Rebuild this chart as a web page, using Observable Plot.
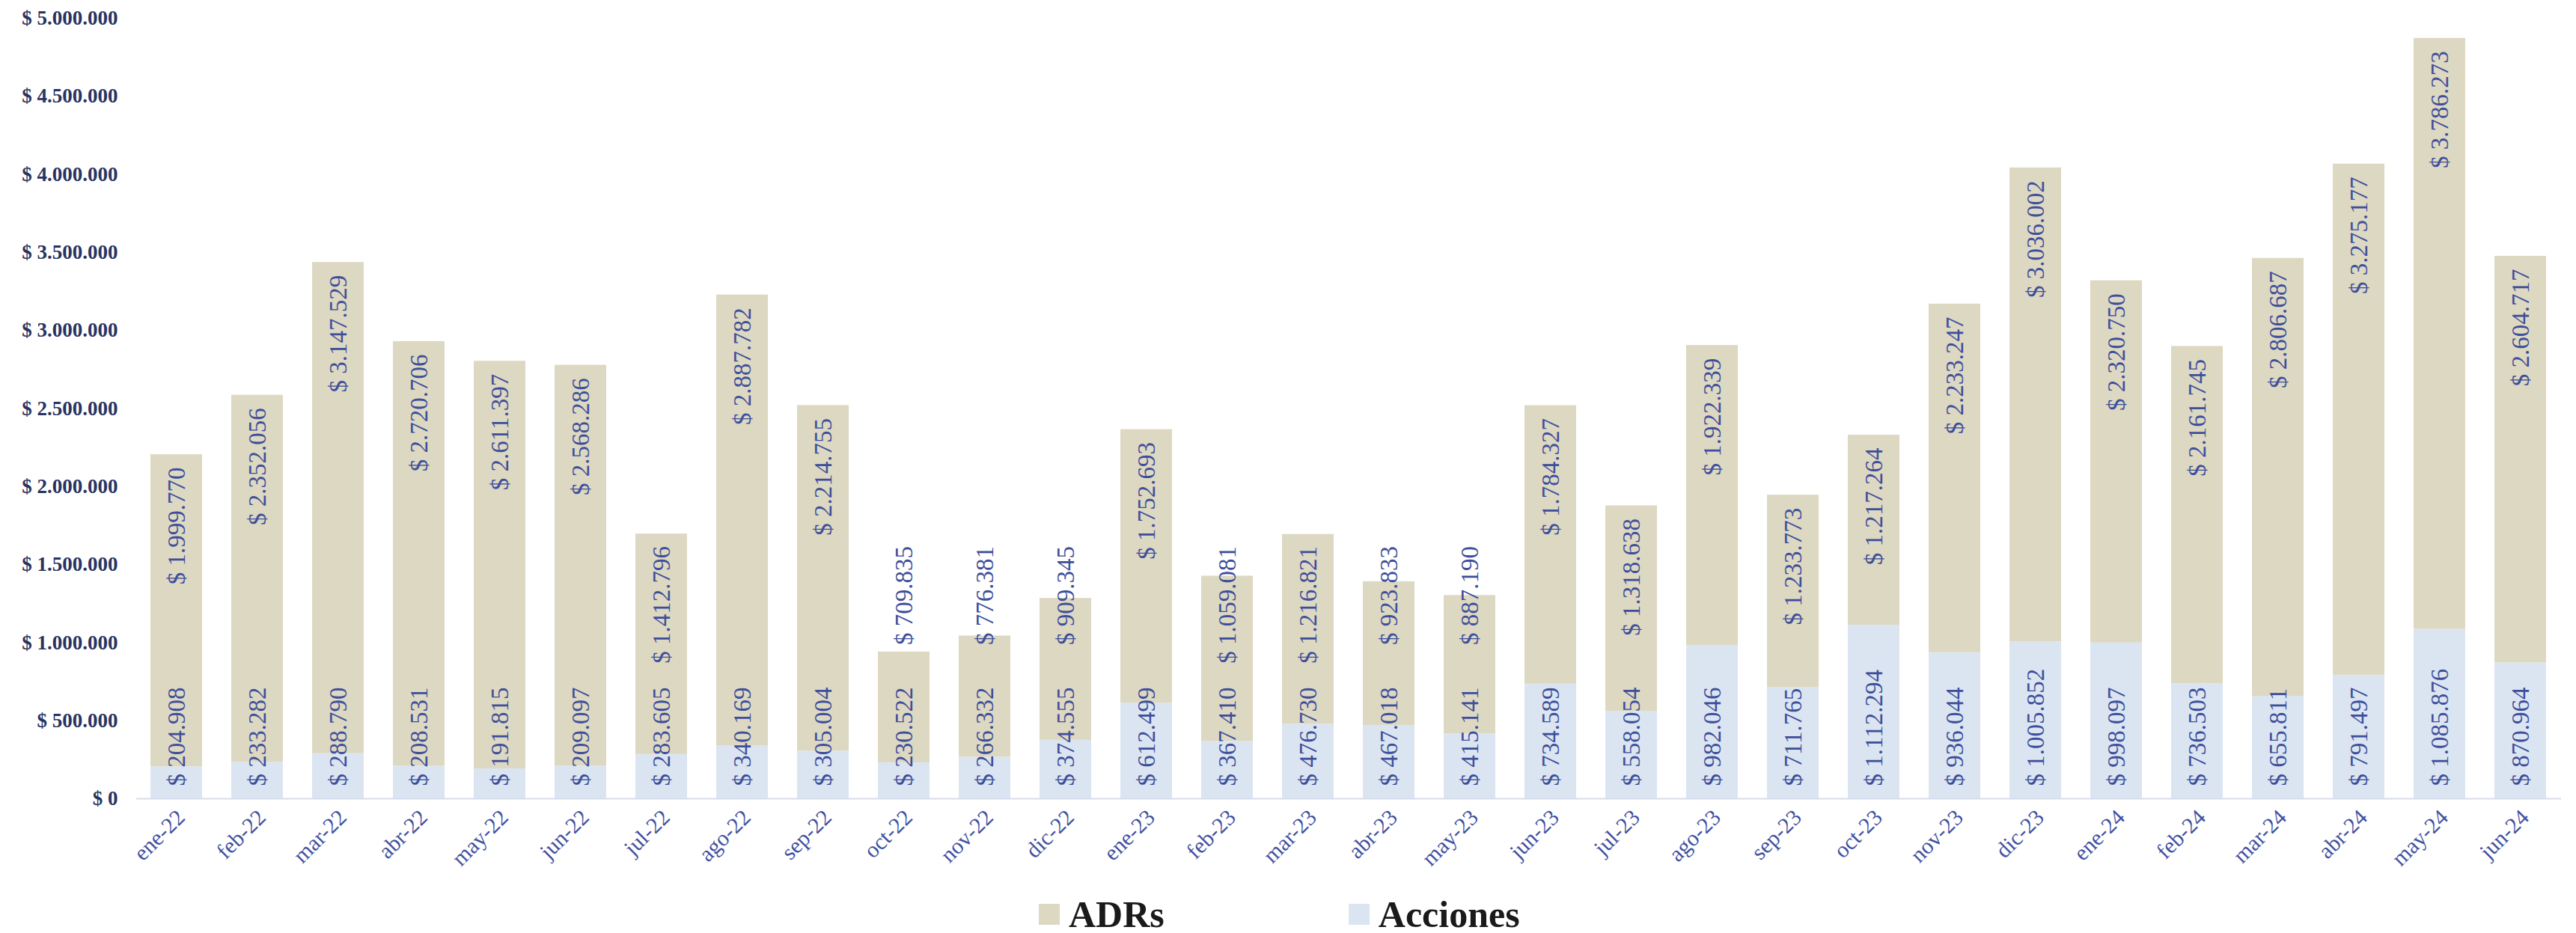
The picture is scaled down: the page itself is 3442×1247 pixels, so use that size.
<!DOCTYPE html>
<html>
<head>
<meta charset="utf-8">
<script src="https://cdn.jsdelivr.net/npm/d3@7"></script>
<script src="https://cdn.jsdelivr.net/npm/@observablehq/plot@0.6"></script>
<style>
  html, body { margin: 0; padding: 0; background: #ffffff; }
  #chart { width: 3442px; }
  .legend { display: flex; align-items: center; height: 44px; padding-top: 20px; padding-left: 1388px; font-family: "Liberation Serif", serif; font-weight: bold; font-size: 50px; color: #1a1a1a; }
  .legend .sw { width: 28px; height: 28px; margin-right: 12px; }
  .legend .item { display: flex; align-items: center; }
  .legend .item + .item { margin-left: 246px; }
</style>
</head>
<body>
<div id="chart"></div>
<div class="legend" id="legend"></div>
<script>
const months = ["ene-22","feb-22","mar-22","abr-22","may-22","jun-22","jul-22","ago-22","sep-22","oct-22","nov-22","dic-22",
  "ene-23","feb-23","mar-23","abr-23","may-23","jun-23","jul-23","ago-23","sep-23","oct-23","nov-23","dic-23",
  "ene-24","feb-24","mar-24","abr-24","may-24","jun-24"];
const adrs = [1999770, 2352056, 3147529, 2720706, 2611397, 2568286, 1412796, 2887782, 2214755, 709835, 776381, 909345,
  1752693, 1059081, 1216821, 923833, 887190, 1784327, 1318638, 1922339, 1233773, 1217264, 2233247, 3036002,
  2320750, 2161745, 2806687, 3275177, 3786273, 2604717];
const acciones = [204908, 233282, 288790, 208531, 191815, 209097, 283605, 340169, 305004, 230522, 266332, 374555,
  612499, 367410, 476730, 467018, 415141, 734589, 558054, 982046, 711765, 1112294, 936044, 1005852,
  998097, 736503, 655811, 791497, 1085876, 870964];
const seriesNames = ["ADRs", "Acciones"];
const yTicks = d3.range(0, 5000001, 500000);

const colors = { "ADRs": "#ddd8c2", "Acciones": "#dbe5f1" };
const labelColor = "#3d4f9b";

const loc = d3.formatLocale({decimal: ",", thousands: ".", grouping: [3], currency: ["$ ", ""]});
const fmt = loc.format("$,.0f");

const rows = months.flatMap((m, i) => [
  {month: m, series: "Acciones", value: acciones[i]},
  {month: m, series: "ADRs", value: adrs[i]}
]);
const totals = months.map((m, i) => ({month: m, adr: adrs[i], acc: acciones[i], total: adrs[i] + acciones[i]}));
// short bars: the ADR label is lifted so it does not collide with the Acciones label
const LABEL_FLOOR = 1700000;

const chart = Plot.plot({
  width: 3442,
  height: 1180,
  marginLeft: 182,
  marginRight: 20,
  marginTop: 24,
  marginBottom: 113,
  style: {fontFamily: "'Liberation Serif', serif", background: "#ffffff"},
  x: {domain: months, paddingInner: 0.36, paddingOuter: 0.18, label: null},
  y: {domain: [0, 5000000], label: null},
  color: {domain: seriesNames, range: seriesNames.map(s => colors[s])},
  marks: [
    Plot.axisY({ticks: yTicks, tickFormat: fmt, tickSize: 0, tickPadding: 25, fontSize: 27, fontWeight: "bold", fill: "#283361", label: null}),
    Plot.axisX({tickRotate: -45, tickSize: 0, tickPadding: 20, fontSize: 30, fill: "#3f51a0", label: null, dx: 6}),
    Plot.barY(rows, {x: "month", y: "value", fill: "series", order: ["Acciones", "ADRs"]}),
    Plot.ruleY([0], {stroke: "#d8dcec", strokeWidth: 2}),
    Plot.text(totals, {x: "month", y: () => 0, text: d => fmt(d.acc), rotate: -90, textAnchor: "start", dy: -17, fontSize: 33, fill: labelColor, ariaLabel: "value-label"}),
    Plot.text(totals, {x: "month", y: d => Math.max(d.total, LABEL_FLOOR), text: d => fmt(d.adr), rotate: -90, textAnchor: "end", dy: 17, fontSize: 33, fill: labelColor, ariaLabel: "value-label"})
  ]
});
// condense the value labels (the original uses a condensed serif face)
chart.querySelectorAll('g[aria-label="value-label"] text').forEach(t => {
  const tr = t.getAttribute("transform");
  if (tr) t.setAttribute("transform", tr + " scale(0.87,1)");
});
document.getElementById("chart").appendChild(chart);

const legend = document.getElementById("legend");
for (const s of seriesNames) {
  const item = document.createElement("div");
  item.className = "item";
  const sw = document.createElement("div");
  sw.className = "sw";
  sw.style.background = colors[s];
  const t = document.createElement("span");
  t.textContent = s;
  item.appendChild(sw);
  item.appendChild(t);
  legend.appendChild(item);
}
</script>
</body>
</html>
